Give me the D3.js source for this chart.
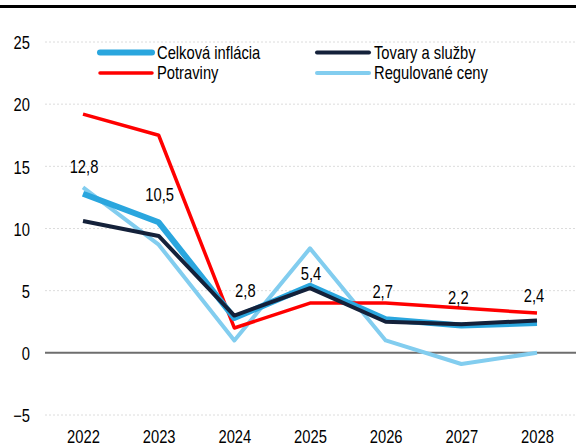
<!DOCTYPE html>
<html>
<head>
<meta charset="utf-8">
<script src="https://cdn.jsdelivr.net/npm/d3@7"></script>
<style>
  body { margin: 0; background: #fff; }
  svg { display: block; font-family: "Liberation Sans", Arial, sans-serif; }
</style>
</head>
<body>
<svg id="chart" width="576" height="446"></svg>
<script>
// data
var years = ["2022", "2023", "2024", "2025", "2026", "2027", "2028"];
var celkova = [12.8, 10.5, 2.8, 5.4, 2.7, 2.2, 2.4];
var tovary = [10.6, 9.4, 3.0, 5.2, 2.5, 2.3, 2.6];
var potraviny = [19.2, 17.5, 2.0, 4.0, 4.0, 3.6, 3.2];
var regulovane = [13.3, 8.7, 1.0, 8.4, 1.0, -0.9, 0.0];
var yTicks = [-5, 0, 5, 10, 15, 20, 25];
var seriesNames = ["Celková inflácia", "Tovary a služby", "Potraviny", "Regulované ceny"];

var fontFamily = "Liberation Sans, Arial, sans-serif";
var narrow = "scale(0.82,1)"; // the reference uses a condensed face
var svg = d3.select("#chart");
var width = 576, height = 446;
var margin = { top: 42, right: 0, bottom: 31, left: 45 };

// top border
svg.append("line")
    .attr("x1", 0).attr("x2", width)
    .attr("y1", 6.5).attr("y2", 6.5)
    .attr("stroke", "#000").attr("stroke-width", 3);

var xScale = d3.scalePoint()
    .domain(years)
    .range([83, 537]);

var yScale = d3.scaleLinear()
    .domain([-5, 25])
    .range([415, 42]);

// gridlines
svg.append("g")
    .selectAll("line")
    .data(yTicks.filter(d => d != 0))
    .join("line")
    .attr("x1", margin.left).attr("x2", width)
    .attr("y1", d => yScale(d)).attr("y2", d => yScale(d))
    .attr("stroke", "#dcdcdc")
    .attr("stroke-width", 1)
    .attr("stroke-dasharray", "2,2");

// zero line
svg.append("line")
    .attr("x1", margin.left).attr("x2", width)
    .attr("y1", yScale(0)).attr("y2", yScale(0))
    .attr("stroke", "#6e6e6e").attr("stroke-width", 2);

// y axis labels
var yAxis = svg.append("g")
    .attr("transform", "translate(30,1)")
    .call(d3.axisLeft(yScale).tickValues(yTicks).tickSize(0).tickPadding(0));
yAxis.select(".domain").remove();
yAxis.selectAll("text")
    .attr("transform", narrow)
    .attr("font-size", "18px")
    .attr("font-family", fontFamily)
    .attr("fill", "#000");

// x axis labels
var xAxis = svg.append("g")
    .attr("transform", "translate(0,443)")
    .call(d3.axisBottom(xScale).tickSize(0).tickPadding(0));
xAxis.select(".domain").remove();
xAxis.selectAll("text")
    .attr("y", 0)
    .attr("dy", 0)
    .attr("transform", narrow)
    .attr("font-size", "18px")
    .attr("font-family", fontFamily)
    .attr("fill", "#000");

var line = d3.line()
    .x((d, i) => xScale(years[i]))
    .y(d => yScale(d));

var series = [
    { values: regulovane, color: "#82cdef", width: 4 },
    { values: potraviny, color: "#ff0000", width: 3.5 },
    { values: celkova, color: "#2aa6de", width: 6 },
    { values: tovary, color: "#14213a", width: 4 }
];

svg.append("g")
    .selectAll("path")
    .data(series)
    .join("path")
    .attr("d", d => line(d.values))
    .attr("fill", "none")
    .attr("stroke", d => d.color)
    .attr("stroke-width", d => d.width)
    .attr("stroke-linejoin", "round");

// data labels for total inflation
svg.append("g")
    .selectAll("text")
    .data(celkova)
    .join("text")
    .attr("transform", (d, i) => {
        var x = xScale(years[i]) + (i == 2 ? 11 : (i > 3 ? -3 : 1));
        var y = yScale(d) - (i == 3 ? 6 : 21);
        return `translate(${x},${y}) ${narrow}`;
    })
    .attr("text-anchor", "middle")
    .attr("font-size", "18px")
    .attr("font-family", fontFamily)
    .attr("fill", "#000")
    .text(d => d3.format(".1f")(d).replace(".", ","));

// legend
var legendColors = ["#2aa6de", "#14213a", "#ff0000", "#82cdef"];
var legendWidths = [6, 4, 3.5, 4];
var legendPos = [[100, 52.5], [317, 52.5], [100, 73], [317, 73]];

var legend = svg.append("g")
    .selectAll("g")
    .data(seriesNames)
    .join("g")
    .attr("transform", (d, i) => `translate(${legendPos[i][0]},${legendPos[i][1]})`);

legend.append("line")
    .attr("x1", 0).attr("x2", 52)
    .attr("stroke", (d, i) => legendColors[i])
    .attr("stroke-width", (d, i) => legendWidths[i])
    .attr("stroke-linecap", "round");

legend.append("text")
    .attr("transform", `translate(57,6) ${narrow}`)
    .attr("font-size", "18px")
    .attr("font-family", fontFamily)
    .attr("fill", "#000")
    .text(d => d);
</script>
</body>
</html>
